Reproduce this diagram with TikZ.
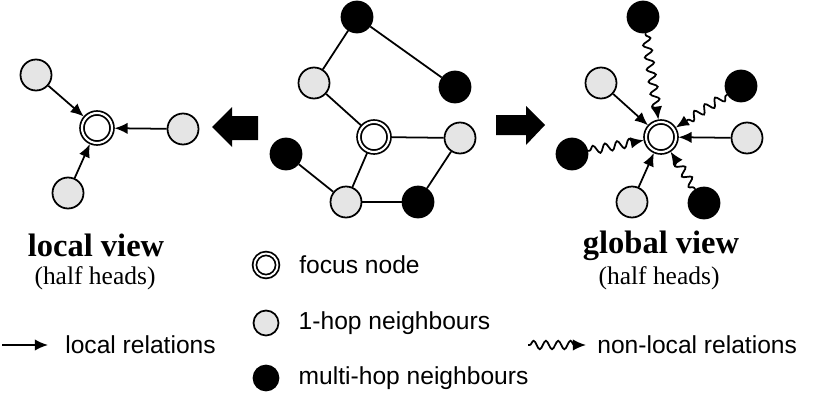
\documentclass[tikz,border=0pt]{standalone}
\usepackage{fontspec}
\setmainfont{Liberation Serif}
\setsansfont{Liberation Sans}
\usepackage{tikz}
\usetikzlibrary{arrows.meta,positioning,decorations.pathmorphing,calc}
\tikzset{
    focus/.style={draw, circle, double, double distance=1.2pt, line width=1pt, fill=white, inner sep=0pt, minimum size=0.6cm, outer sep=0.05cm},
    hop/.style={draw, circle, line width=1pt, fill=gray!20, inner sep=0pt, minimum size=0.62cm},
    multi/.style={hop, fill=black},
    link/.style={line width=1pt},
    local/.style={-{Latex[length=7.5pt, width=6.5pt]}, line width=1pt},
    nonlocal/.style={local, decorate, decoration={snake, amplitude=2.4pt, segment length=7pt, pre length=1pt, post length=5pt}},
    viewtitle/.style={font=\fontsize{18.5}{20}\selectfont\bfseries, inner sep=0pt},
    viewnote/.style={font=\fontsize{14.5}{16}\selectfont, inner sep=0pt},
    legend/.style={font=\sffamily\fontsize{14}{16}\selectfont, inner sep=0pt}
}

\begin{document}
\begin{tikzpicture}[x=0.02cm, y=-0.02cm]
    \useasboundingbox (0,0) rectangle (814,409);

    % local view
    \node[focus] (lf) at (97,128) {};
    \node[hop] (l1) at (36,75) {};
    \node[hop] (l2) at (183,129) {};
    \node[hop] (l3) at (68,193) {};
    \draw[local] (l1) -- (lf);
    \draw[local] (l2) -- (lf);
    \draw[local] (l3) -- (lf);

    % graph in the middle
    \node[focus] (mf) at (374,137) {};
    \node[multi] (m1) at (357,17) {};
    \node[hop] (m2) at (314,83) {};
    \node[multi] (m3) at (455,87) {};
    \node[hop] (m4) at (460,138) {};
    \node[multi] (m5) at (286,154) {};
    \node[hop] (m6) at (346,202) {};
    \node[multi] (m7) at (418,202) {};
    \draw[link] (m1) -- (m2);
    \draw[link] (m1) -- (m3);
    \draw[link] (m2) -- (mf);
    \draw[link] (mf) -- (m4);
    \draw[link] (mf) -- (m6);
    \draw[link] (m5) -- (m6);
    \draw[link] (m6) -- (m7);
    \draw[link] (m7) -- (m4);

    % big arrows
    \fill (212,127) -- (232,107) -- (232,116) -- (258,116) -- (258,140) -- (232,140) -- (232,147) -- cycle;
    \fill (496,115) -- (526,115) -- (526,106) -- (545,125) -- (526,145) -- (526,135) -- (496,135) -- cycle;

    % global view
    \node[focus] (gf) at (661,137) {};
    \node[multi] (g1) at (643,17) {};
    \node[hop] (g2) at (601,83) {};
    \node[multi] (g3) at (741,86) {};
    \node[hop] (g4) at (747,138) {};
    \node[multi] (g5) at (572,154) {};
    \node[hop] (g6) at (632,202) {};
    \node[multi] (g7) at (704,203) {};
    \draw[local] (g2) -- (gf);
    \draw[local] (g4) -- (gf);
    \draw[local] (g6) -- (gf);
    \draw[nonlocal] (g1) -- (gf);
    \draw[nonlocal] (g3) -- (gf);
    \draw[nonlocal] (g5) -- (gf);
    \draw[nonlocal] (g7) -- (gf);

    % titles
    \node[viewtitle] (lt) at (96,245) {local view};
    \node[viewnote] (ln) at (95,278) {(half heads)};
    \node[viewtitle] (gt) at (661,246) {global view};
    \node[viewnote] (gn) at (659,278) {(half heads)};

    % legend
    \node[focus, minimum size=0.46cm, double distance=1.1pt] (kf) at (266,265) {};
    \node[hop, minimum size=0.5cm] (k1) at (266,323) {};
    \node[multi, minimum size=0.5cm] (k2) at (266,378) {};
    \node[legend, right=0.38cm of kf] {focus node};
    \node[legend, right=0.38cm of k1] {1-hop neighbours};
    \node[legend, right=0.38cm of k2] {multi-hop neighbours};

    \coordinate (ka) at (2,345);
    \coordinate (kb) at (48,345);
    \draw[local] (ka) -- (kb);
    \node[legend, right=0.34cm of kb] {local relations};
    \coordinate (kc) at (528,345);
    \coordinate (kd) at (586,345);
    \draw[nonlocal] (kc) -- (kd);
    \node[legend, right=0.22cm of kd] {non-local relations};
\end{tikzpicture}
\end{document}
